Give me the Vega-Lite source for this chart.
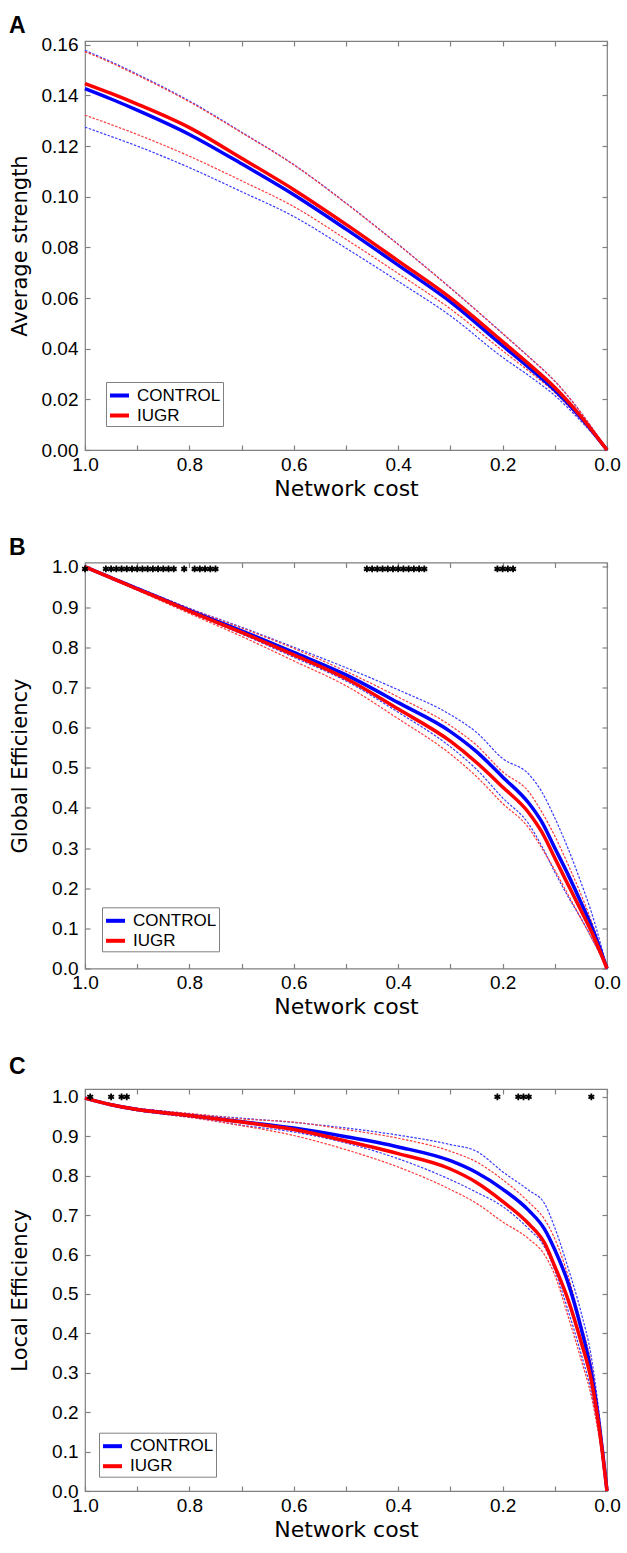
{
"$schema":"https://vega.github.io/schema/vega-lite/v6.json",
"padding":{"left":8,"top":14,"right":4,"bottom":4},
"spacing":36.5,
"resolve":{"scale":{"color":"independent"},"legend":{"color":"independent"}},
"config":{
 "view":{"stroke":"#808080","strokeWidth":1.2},
 "line":{"interpolate":"monotone"},
 "axis":{"domain":false,"grid":false,"tickSize":-5,"tickColor":"#808080","tickWidth":1.2,"labelFont":"Liberation Sans","labelFontSize":19,"labelColor":"black","labelFlush":false,"labelOverlap":false,"titleFont":"DejaVu Sans","titleFontWeight":"normal","titleColor":"black"},
 "axisX":{"titleFontSize":22,"titlePadding":4,"labelPadding":10},
 "axisY":{"titleFontSize":21,"labelPadding":12},
 "title":{"anchor":"start","frame":"bounds","font":"Liberation Sans","fontSize":23,"fontWeight":"bold","color":"black"}
},
"datasets":{
 "A":[
  {"x":1.0,"bm":0.1427,"rm":0.1447,"bu":0.1578,"ru":0.1573,"bl":0.1275,"rl":0.1322},
  {"x":0.95,"bm":0.1386,"rm":0.1408,"bu":0.1533,"ru":0.1529,"bl":0.1238,"rl":0.1285},
  {"x":0.9,"bm":0.1342,"rm":0.1366,"bu":0.1484,"ru":0.1480,"bl":0.1200,"rl":0.1246},
  {"x":0.8,"bm":0.1246,"rm":0.1273,"bu":0.1378,"ru":0.1375,"bl":0.1115,"rl":0.1160},
  {"x":0.7,"bm":0.1130,"rm":0.1152,"bu":0.1255,"ru":0.1253,"bl":0.1020,"rl":0.1063},
  {"x":0.6,"bm":0.1008,"rm":0.1028,"bu":0.1127,"ru":0.1126,"bl":0.0922,"rl":0.0961},
  {"x":0.5,"bm":0.0872,"rm":0.0891,"bu":0.0975,"ru":0.0974,"bl":0.0797,"rl":0.0832},
  {"x":0.4,"bm":0.0730,"rm":0.0747,"bu":0.0812,"ru":0.0811,"bl":0.0666,"rl":0.0697},
  {"x":0.3,"bm":0.0585,"rm":0.0601,"bu":0.0640,"ru":0.0640,"bl":0.0530,"rl":0.0557},
  {"x":0.2,"bm":0.0412,"rm":0.0428,"bu":0.0460,"ru":0.0460,"bl":0.0366,"rl":0.0392},
  {"x":0.15,"bm":0.0326,"rm":0.0340,"bu":0.0368,"ru":0.0368,"bl":0.0294,"rl":0.0312},
  {"x":0.1,"bm":0.0236,"rm":0.0247,"bu":0.0272,"ru":0.0272,"bl":0.0215,"rl":0.0227},
  {"x":0.05,"bm":0.0128,"rm":0.0133,"bu":0.0148,"ru":0.0148,"bl":0.0114,"rl":0.0120},
  {"x":0.0,"bm":0,"rm":0,"bu":0,"ru":0,"bl":0,"rl":0}
 ],
 "B":[
  {"x":1.0,"bm":1.0,"rm":1.0,"bu":1.0,"ru":1.0,"bl":1.0,"rl":1.0},
  {"x":0.95,"bm":0.973,"rm":0.973,"bu":0.975,"ru":0.974,"bl":0.971,"rl":0.971},
  {"x":0.9,"bm":0.946,"rm":0.945,"bu":0.949,"ru":0.948,"bl":0.943,"rl":0.942},
  {"x":0.85,"bm":0.919,"rm":0.918,"bu":0.923,"ru":0.922,"bl":0.915,"rl":0.913},
  {"x":0.8,"bm":0.892,"rm":0.890,"bu":0.897,"ru":0.896,"bl":0.887,"rl":0.884},
  {"x":0.7,"bm":0.841,"rm":0.837,"bu":0.850,"ru":0.848,"bl":0.833,"rl":0.827},
  {"x":0.6,"bm":0.787,"rm":0.781,"bu":0.800,"ru":0.797,"bl":0.775,"rl":0.766},
  {"x":0.5,"bm":0.731,"rm":0.722,"bu":0.749,"ru":0.740,"bl":0.716,"rl":0.704},
  {"x":0.4,"bm":0.662,"rm":0.646,"bu":0.694,"ru":0.676,"bl":0.638,"rl":0.622},
  {"x":0.3,"bm":0.590,"rm":0.566,"bu":0.632,"ru":0.605,"bl":0.552,"rl":0.534},
  {"x":0.25,"bm":0.540,"rm":0.513,"bu":0.588,"ru":0.556,"bl":0.496,"rl":0.478},
  {"x":0.2,"bm":0.477,"rm":0.452,"bu":0.523,"ru":0.490,"bl":0.425,"rl":0.411},
  {"x":0.15,"bm":0.412,"rm":0.388,"bu":0.484,"ru":0.440,"bl":0.360,"rl":0.350},
  {"x":0.125,"bm":0.365,"rm":0.340,"bu":0.440,"ru":0.390,"bl":0.305,"rl":0.300},
  {"x":0.1,"bm":0.300,"rm":0.275,"bu":0.375,"ru":0.330,"bl":0.240,"rl":0.245},
  {"x":0.075,"bm":0.235,"rm":0.210,"bu":0.300,"ru":0.260,"bl":0.180,"rl":0.185},
  {"x":0.05,"bm":0.165,"rm":0.145,"bu":0.215,"ru":0.185,"bl":0.125,"rl":0.125},
  {"x":0.025,"bm":0.090,"rm":0.078,"bu":0.120,"ru":0.100,"bl":0.065,"rl":0.065},
  {"x":0.0,"bm":0,"rm":0,"bu":0,"ru":0,"bl":0,"rl":0}
 ],
 "C":[
  {"x":1.0,"bm":0.997,"rm":0.997,"bu":0.997,"ru":0.997,"bl":0.997,"rl":0.997},
  {"x":0.95,"bm":0.980,"rm":0.980,"bu":0.982,"ru":0.982,"bl":0.978,"rl":0.978},
  {"x":0.9,"bm":0.968,"rm":0.968,"bu":0.971,"ru":0.971,"bl":0.965,"rl":0.965},
  {"x":0.85,"bm":0.960,"rm":0.960,"bu":0.964,"ru":0.964,"bl":0.956,"rl":0.956},
  {"x":0.8,"bm":0.953,"rm":0.953,"bu":0.957,"ru":0.958,"bl":0.949,"rl":0.948},
  {"x":0.7,"bm":0.937,"rm":0.936,"bu":0.946,"ru":0.944,"bl":0.928,"rl":0.927},
  {"x":0.6,"bm":0.921,"rm":0.917,"bu":0.935,"ru":0.936,"bl":0.911,"rl":0.902},
  {"x":0.5,"bm":0.899,"rm":0.888,"bu":0.921,"ru":0.917,"bl":0.883,"rl":0.866},
  {"x":0.4,"bm":0.873,"rm":0.856,"bu":0.903,"ru":0.895,"bl":0.843,"rl":0.822},
  {"x":0.3,"bm":0.838,"rm":0.817,"bu":0.879,"ru":0.862,"bl":0.790,"rl":0.765},
  {"x":0.25,"bm":0.808,"rm":0.783,"bu":0.862,"ru":0.835,"bl":0.758,"rl":0.730},
  {"x":0.2,"bm":0.766,"rm":0.735,"bu":0.810,"ru":0.790,"bl":0.722,"rl":0.683},
  {"x":0.15,"bm":0.712,"rm":0.678,"bu":0.763,"ru":0.733,"bl":0.665,"rl":0.640},
  {"x":0.12,"bm":0.665,"rm":0.630,"bu":0.730,"ru":0.690,"bl":0.620,"rl":0.600},
  {"x":0.1,"bm":0.612,"rm":0.570,"bu":0.668,"ru":0.640,"bl":0.560,"rl":0.548},
  {"x":0.075,"bm":0.530,"rm":0.487,"bu":0.568,"ru":0.548,"bl":0.460,"rl":0.445},
  {"x":0.05,"bm":0.415,"rm":0.380,"bu":0.455,"ru":0.425,"bl":0.350,"rl":0.335},
  {"x":0.03,"bm":0.300,"rm":0.280,"bu":0.340,"ru":0.320,"bl":0.250,"rl":0.240},
  {"x":0.015,"bm":0.170,"rm":0.160,"bu":0.195,"ru":0.185,"bl":0.140,"rl":0.135},
  {"x":0.0,"bm":0,"rm":0,"bu":0,"ru":0,"bl":0,"rl":0}
 ],
 "starsB":[
  {"x":1.0,"y":0.995},
  {"x":0.96,"y":0.995},{"x":0.95,"y":0.995},{"x":0.94,"y":0.995},{"x":0.93,"y":0.995},{"x":0.92,"y":0.995},{"x":0.91,"y":0.995},{"x":0.9,"y":0.995},
  {"x":0.89,"y":0.995},{"x":0.88,"y":0.995},{"x":0.87,"y":0.995},{"x":0.86,"y":0.995},{"x":0.85,"y":0.995},{"x":0.84,"y":0.995},{"x":0.83,"y":0.995},
  {"x":0.81,"y":0.995},
  {"x":0.79,"y":0.995},{"x":0.78,"y":0.995},{"x":0.77,"y":0.995},{"x":0.76,"y":0.995},{"x":0.75,"y":0.995},
  {"x":0.46,"y":0.995},{"x":0.45,"y":0.995},{"x":0.44,"y":0.995},{"x":0.43,"y":0.995},{"x":0.42,"y":0.995},{"x":0.41,"y":0.995},
  {"x":0.4,"y":0.995},{"x":0.39,"y":0.995},{"x":0.38,"y":0.995},{"x":0.37,"y":0.995},{"x":0.36,"y":0.995},{"x":0.35,"y":0.995},
  {"x":0.21,"y":0.995},{"x":0.2,"y":0.995},{"x":0.19,"y":0.995},{"x":0.18,"y":0.995}
 ],
 "starsC":[
  {"x":0.99,"y":1.0},{"x":0.95,"y":1.0},{"x":0.93,"y":1.0},{"x":0.92,"y":1.0},
  {"x":0.21,"y":1.0},{"x":0.17,"y":1.0},{"x":0.16,"y":1.0},{"x":0.15,"y":1.0},{"x":0.03,"y":1.0}
 ]
},
"vconcat":[
 {
  "width":522,"height":409,
  "title":{"text":"A","offset":-2},
  "data":{"name":"A"},
  "resolve":{"axis":{"x":"independent","y":"independent"}},
  "layer":[
   {"mark":{"type":"line","color":"#3a3aff","strokeWidth":1.2,"strokeDash":[2.5,1.5]},
    "encoding":{"x":{"field":"x","type":"quantitative","scale":{"domain":[0,1],"reverse":true,"nice":false,"zero":false},"axis":null},
                "y":{"field":"bu","type":"quantitative","scale":{"domain":[0,0.1615],"nice":false,"zero":false},"axis":null}}},
   {"mark":{"type":"line","color":"#ff3a3a","strokeWidth":1.2,"strokeDash":[2.5,1.5]},
    "encoding":{"x":{"field":"x","type":"quantitative","scale":{"domain":[0,1],"reverse":true,"nice":false,"zero":false},"axis":null},
                "y":{"field":"ru","type":"quantitative","scale":{"domain":[0,0.1615],"nice":false,"zero":false},"axis":null}}},
   {"mark":{"type":"line","color":"#3a3aff","strokeWidth":1.2,"strokeDash":[2.5,1.5]},
    "encoding":{"x":{"field":"x","type":"quantitative","scale":{"domain":[0,1],"reverse":true,"nice":false,"zero":false},"axis":null},
                "y":{"field":"bl","type":"quantitative","scale":{"domain":[0,0.1615],"nice":false,"zero":false},"axis":null}}},
   {"mark":{"type":"line","color":"#ff3a3a","strokeWidth":1.2,"strokeDash":[2.5,1.5]},
    "encoding":{"x":{"field":"x","type":"quantitative","scale":{"domain":[0,1],"reverse":true,"nice":false,"zero":false},"axis":null},
                "y":{"field":"rl","type":"quantitative","scale":{"domain":[0,0.1615],"nice":false,"zero":false},"axis":null}}},
   {"mark":{"type":"line","strokeWidth":3.5},
    "encoding":{"x":{"field":"x","type":"quantitative","scale":{"domain":[0,1],"reverse":true,"nice":false,"zero":false},
                     "axis":{"orient":"bottom","values":[0,0.1,0.2,0.3,0.4,0.5,0.6,0.7,0.8,0.9,1],"labelExpr":"round(datum.value*10)%2==0 ? format(datum.value,'.1f') : ''","title":"Network cost"}},
                "y":{"field":"bm","type":"quantitative","scale":{"domain":[0,0.1615],"nice":false,"zero":false},
                     "axis":{"orient":"left","values":[0,0.02,0.04,0.06,0.08,0.1,0.12,0.14,0.16],"format":".2f","title":"Average strength","titleX":-55}},
                "color":{"datum":"CONTROL","type":"nominal","scale":{"domain":["CONTROL","IUGR"],"range":["#0000ff","#ff0000"]},
                         "legend":{"orient":"none","legendX":21,"legendY":341,"title":null,"symbolType":"stroke","symbolStrokeWidth":4,"symbolSize":361,"labelFont":"Liberation Sans","labelFontSize":17,"labelColor":"black","fillColor":"white","strokeColor":"#808080","padding":2,"rowPadding":0,"labelOffset":6,"labelExpr":"datum.label + '\u00a0\u00a0\u00a0\u00a0'"}}}},
   {"mark":{"type":"line","strokeWidth":3.5},
    "encoding":{"x":{"field":"x","type":"quantitative","scale":{"domain":[0,1],"reverse":true,"nice":false,"zero":false},
                     "axis":{"orient":"top","values":[0,0.1,0.2,0.3,0.4,0.5,0.6,0.7,0.8,0.9,1],"labels":false,"title":null}},
                "y":{"field":"rm","type":"quantitative","scale":{"domain":[0,0.1615],"nice":false,"zero":false},
                     "axis":{"orient":"right","values":[0,0.02,0.04,0.06,0.08,0.1,0.12,0.14,0.16],"labels":false,"title":null}},
                "color":{"datum":"IUGR","type":"nominal"}}}
  ]
 },
 {
  "width":522,"height":406,
  "title":{"text":"B","offset":-2.5},
  "data":{"name":"B"},
  "resolve":{"axis":{"x":"independent","y":"independent"}},
  "layer":[
   {"mark":{"type":"line","color":"#3a3aff","strokeWidth":1.2,"strokeDash":[2.5,1.5]},
    "encoding":{"x":{"field":"x","type":"quantitative","scale":{"domain":[0,1],"reverse":true,"nice":false,"zero":false},"axis":null},
                "y":{"field":"bu","type":"quantitative","scale":{"domain":[0,1.011],"nice":false,"zero":false},"axis":null}}},
   {"mark":{"type":"line","color":"#ff3a3a","strokeWidth":1.2,"strokeDash":[2.5,1.5]},
    "encoding":{"x":{"field":"x","type":"quantitative","scale":{"domain":[0,1],"reverse":true,"nice":false,"zero":false},"axis":null},
                "y":{"field":"ru","type":"quantitative","scale":{"domain":[0,1.011],"nice":false,"zero":false},"axis":null}}},
   {"mark":{"type":"line","color":"#3a3aff","strokeWidth":1.2,"strokeDash":[2.5,1.5]},
    "encoding":{"x":{"field":"x","type":"quantitative","scale":{"domain":[0,1],"reverse":true,"nice":false,"zero":false},"axis":null},
                "y":{"field":"bl","type":"quantitative","scale":{"domain":[0,1.011],"nice":false,"zero":false},"axis":null}}},
   {"mark":{"type":"line","color":"#ff3a3a","strokeWidth":1.2,"strokeDash":[2.5,1.5]},
    "encoding":{"x":{"field":"x","type":"quantitative","scale":{"domain":[0,1],"reverse":true,"nice":false,"zero":false},"axis":null},
                "y":{"field":"rl","type":"quantitative","scale":{"domain":[0,1.011],"nice":false,"zero":false},"axis":null}}},
   {"mark":{"type":"line","strokeWidth":3.5},
    "encoding":{"x":{"field":"x","type":"quantitative","scale":{"domain":[0,1],"reverse":true,"nice":false,"zero":false},
                     "axis":{"orient":"bottom","values":[0,0.1,0.2,0.3,0.4,0.5,0.6,0.7,0.8,0.9,1],"labelExpr":"round(datum.value*10)%2==0 ? format(datum.value,'.1f') : ''","title":"Network cost"}},
                "y":{"field":"bm","type":"quantitative","scale":{"domain":[0,1.011],"nice":false,"zero":false},
                     "axis":{"orient":"left","values":[0,0.1,0.2,0.3,0.4,0.5,0.6,0.7,0.8,0.9,1],"format":".1f","title":"Global Efficiency","titleX":-55}},
                "color":{"datum":"CONTROL","type":"nominal","scale":{"domain":["CONTROL","IUGR"],"range":["#0000ff","#ff0000"]},
                         "legend":{"orient":"none","legendX":17,"legendY":344.8,"title":null,"symbolType":"stroke","symbolStrokeWidth":4,"symbolSize":361,"labelFont":"Liberation Sans","labelFontSize":17,"labelColor":"black","fillColor":"white","strokeColor":"#808080","padding":2,"rowPadding":0,"labelOffset":6,"labelExpr":"datum.label + '\u00a0\u00a0\u00a0\u00a0'"}}}},
   {"mark":{"type":"line","strokeWidth":3.5},
    "encoding":{"x":{"field":"x","type":"quantitative","scale":{"domain":[0,1],"reverse":true,"nice":false,"zero":false},
                     "axis":{"orient":"top","values":[0,0.1,0.2,0.3,0.4,0.5,0.6,0.7,0.8,0.9,1],"labels":false,"title":null}},
                "y":{"field":"rm","type":"quantitative","scale":{"domain":[0,1.011],"nice":false,"zero":false},
                     "axis":{"orient":"right","values":[0,0.1,0.2,0.3,0.4,0.5,0.6,0.7,0.8,0.9,1],"labels":false,"title":null}},
                "color":{"datum":"IUGR","type":"nominal"}}},
   {"data":{"name":"starsB"},
    "mark":{"type":"point","shape":"M0,-1L0,1M-0.87,-0.5L0.87,0.5M-0.87,0.5L0.87,-0.5","size":45,"stroke":"black","strokeWidth":1.8,"filled":false,"opacity":1},
    "encoding":{"x":{"field":"x","type":"quantitative","scale":{"domain":[0,1],"reverse":true,"nice":false,"zero":false},"axis":null},
                "y":{"field":"y","type":"quantitative","scale":{"domain":[0,1.011],"nice":false,"zero":false},"axis":null}}}
  ]
 },
 {
  "width":522,"height":402,
  "title":{"text":"C","offset":9},
  "data":{"name":"C"},
  "resolve":{"axis":{"x":"independent","y":"independent"}},
  "layer":[
   {"mark":{"type":"line","color":"#3a3aff","strokeWidth":1.2,"strokeDash":[2.5,1.5]},
    "encoding":{"x":{"field":"x","type":"quantitative","scale":{"domain":[0,1],"reverse":true,"nice":false,"zero":false},"axis":null},
                "y":{"field":"bu","type":"quantitative","scale":{"domain":[0,1.02],"nice":false,"zero":false},"axis":null}}},
   {"mark":{"type":"line","color":"#ff3a3a","strokeWidth":1.2,"strokeDash":[2.5,1.5]},
    "encoding":{"x":{"field":"x","type":"quantitative","scale":{"domain":[0,1],"reverse":true,"nice":false,"zero":false},"axis":null},
                "y":{"field":"ru","type":"quantitative","scale":{"domain":[0,1.02],"nice":false,"zero":false},"axis":null}}},
   {"mark":{"type":"line","color":"#3a3aff","strokeWidth":1.2,"strokeDash":[2.5,1.5]},
    "encoding":{"x":{"field":"x","type":"quantitative","scale":{"domain":[0,1],"reverse":true,"nice":false,"zero":false},"axis":null},
                "y":{"field":"bl","type":"quantitative","scale":{"domain":[0,1.02],"nice":false,"zero":false},"axis":null}}},
   {"mark":{"type":"line","color":"#ff3a3a","strokeWidth":1.2,"strokeDash":[2.5,1.5]},
    "encoding":{"x":{"field":"x","type":"quantitative","scale":{"domain":[0,1],"reverse":true,"nice":false,"zero":false},"axis":null},
                "y":{"field":"rl","type":"quantitative","scale":{"domain":[0,1.02],"nice":false,"zero":false},"axis":null}}},
   {"mark":{"type":"line","strokeWidth":3.5},
    "encoding":{"x":{"field":"x","type":"quantitative","scale":{"domain":[0,1],"reverse":true,"nice":false,"zero":false},
                     "axis":{"orient":"bottom","values":[0,0.1,0.2,0.3,0.4,0.5,0.6,0.7,0.8,0.9,1],"labelExpr":"round(datum.value*10)%2==0 ? format(datum.value,'.1f') : ''","title":"Network cost"}},
                "y":{"field":"bm","type":"quantitative","scale":{"domain":[0,1.02],"nice":false,"zero":false},
                     "axis":{"orient":"left","values":[0,0.1,0.2,0.3,0.4,0.5,0.6,0.7,0.8,0.9,1],"format":".1f","title":"Local Efficiency","titleX":-55}},
                "color":{"datum":"CONTROL","type":"nominal","scale":{"domain":["CONTROL","IUGR"],"range":["#0000ff","#ff0000"]},
                         "legend":{"orient":"none","legendX":14,"legendY":343.7,"title":null,"symbolType":"stroke","symbolStrokeWidth":4,"symbolSize":361,"labelFont":"Liberation Sans","labelFontSize":17,"labelColor":"black","fillColor":"white","strokeColor":"#808080","padding":2,"rowPadding":0,"labelOffset":6,"labelExpr":"datum.label + '\u00a0\u00a0\u00a0\u00a0'"}}}},
   {"mark":{"type":"line","strokeWidth":3.5},
    "encoding":{"x":{"field":"x","type":"quantitative","scale":{"domain":[0,1],"reverse":true,"nice":false,"zero":false},
                     "axis":{"orient":"top","values":[0,0.1,0.2,0.3,0.4,0.5,0.6,0.7,0.8,0.9,1],"labels":false,"title":null}},
                "y":{"field":"rm","type":"quantitative","scale":{"domain":[0,1.02],"nice":false,"zero":false},
                     "axis":{"orient":"right","values":[0,0.1,0.2,0.3,0.4,0.5,0.6,0.7,0.8,0.9,1],"labels":false,"title":null}},
                "color":{"datum":"IUGR","type":"nominal"}}},
   {"data":{"name":"starsC"},
    "mark":{"type":"point","shape":"M0,-1L0,1M-0.87,-0.5L0.87,0.5M-0.87,0.5L0.87,-0.5","size":45,"stroke":"black","strokeWidth":1.8,"filled":false,"opacity":1},
    "encoding":{"x":{"field":"x","type":"quantitative","scale":{"domain":[0,1],"reverse":true,"nice":false,"zero":false},"axis":null},
                "y":{"field":"y","type":"quantitative","scale":{"domain":[0,1.02],"nice":false,"zero":false},"axis":null}}}
  ]
 }
]
}
